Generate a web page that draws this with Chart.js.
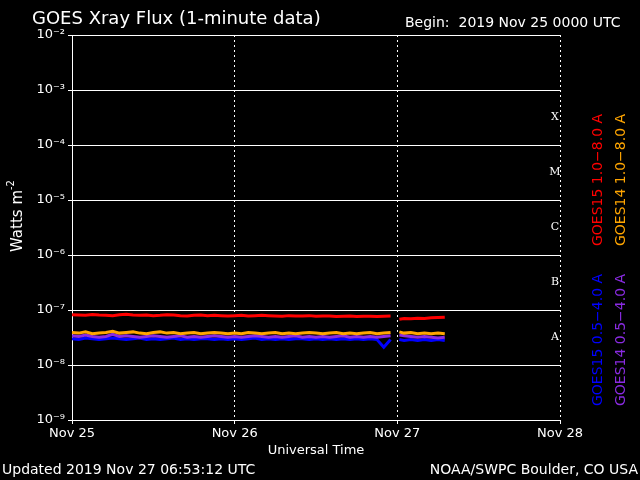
<!DOCTYPE html>
<html>
<head>
<meta charset="utf-8">
<script src="https://cdn.jsdelivr.net/npm/chart.js@4/dist/chart.umd.min.js"></script>
<style>
  body { margin: 0; background: #000; }
</style>
</head>
<body>
<canvas id="xray" width="640" height="480"></canvas>
<script>
// hours since 2019 Nov 25 0000 UTC
const hours = [0,1,2,3,4,5,6,7,8,9,10,11,12,13,14,15,16,17,18,19,20,21,22,23,24,25,26,27,28,29,30,31,32,33,34,35,36,37,38,39,40,41,42,43,44,45,46,47,47.6,48.3,49,50,51,52,53,54,55];
const dayLabels = ["Nov 25", "Nov 26", "Nov 27", "Nov 28"];
const decadeLabels = ["10⁻⁹", "10⁻⁸", "10⁻⁷", "10⁻⁶", "10⁻⁵", "10⁻⁴", "10⁻³", "10⁻²"];
const flareClasses = ["A", "B", "C", "M", "X"];

// flux in units of 1e-8 W m^-2
const goes15Long = [8.2,8.1,8.0,8.3,8.1,8.0,7.9,8.2,8.4,8.1,8.0,8.1,7.9,8.0,8.2,8.1,7.9,7.8,8.0,8.1,7.9,8.0,7.9,7.8,7.9,8.0,7.8,7.9,8.0,7.9,7.8,7.7,7.9,7.8,7.8,7.9,7.7,7.8,7.8,7.6,7.7,7.8,7.6,7.7,7.7,7.6,7.7,7.8,null,6.8,7.0,6.9,7.1,7.0,7.2,7.3,7.4];
const goes14Long = [3.9,3.8,4.0,3.7,3.8,3.9,4.1,3.8,3.9,4.0,3.8,3.7,3.9,4.0,3.8,3.9,3.7,3.8,3.9,3.7,3.8,3.9,3.8,3.7,3.8,3.7,3.9,3.8,3.7,3.8,3.9,3.7,3.8,3.7,3.8,3.9,3.8,3.7,3.8,3.9,3.7,3.8,3.7,3.8,3.9,3.7,3.8,3.9,null,4.0,3.8,3.9,3.7,3.8,3.7,3.8,3.7];
const goes15Short = [3.0,2.9,3.1,3.0,2.9,3.0,3.1,3.0,2.9,3.0,3.1,2.9,3.0,2.9,3.0,3.1,2.9,3.0,2.9,3.0,3.0,2.9,3.0,2.9,3.0,2.9,3.0,3.1,2.9,3.0,2.9,3.0,2.9,3.0,3.0,2.9,3.0,2.9,3.0,2.9,3.0,2.9,3.0,2.9,3.0,2.9,2.1,2.9,null,2.9,2.8,2.9,2.8,2.9,2.8,2.9,2.8];
const goes14Short = [3.4,3.3,3.5,3.3,3.2,3.3,3.6,3.3,3.4,3.3,3.2,3.3,3.4,3.3,3.2,3.3,3.4,3.2,3.3,3.2,3.3,3.4,3.3,3.2,3.3,3.2,3.3,3.4,3.3,3.2,3.3,3.2,3.3,3.4,3.2,3.3,3.2,3.3,3.2,3.3,3.4,3.2,3.3,3.2,3.3,3.2,3.3,3.4,null,3.5,3.4,3.3,3.2,3.3,3.2,3.1,3.2];

function toPoints(values) {
  return hours.map((h, i) => ({ x: h, y: values[i] === null ? null : values[i] * 1e-8 }));
}

function makeSeries(values, color) {
  return {
    data: toPoints(values),
    borderColor: color,
    borderWidth: 3,
    pointRadius: 0,
    spanGaps: false,
  };
}

const overlayPlugin = {
  id: "overlay",
  afterDraw(chart) {
    const ctx = chart.ctx;
    const area = chart.chartArea;
    const y = chart.scales.y;
    ctx.save();
    ctx.fillStyle = "#fff";
    ctx.font = "18px 'DejaVu Sans'";
    ctx.textBaseline = "alphabetic";
    ctx.textAlign = "left";
    ctx.fillText("GOES Xray Flux (1-minute data)", 32, 24);
    ctx.font = "14px 'DejaVu Sans'";
    ctx.fillText("Begin:  2019 Nov 25 0000 UTC", 405, 27);
    ctx.fillText("Updated 2019 Nov 27 06:53:12 UTC", 2, 474);
    ctx.textAlign = "right";
    ctx.fillText("NOAA/SWPC Boulder, CO USA", 638, 474);
    ctx.textAlign = "center";
    ctx.font = "13px 'DejaVu Sans'";
    ctx.fillText("Universal Time", (area.left + area.right) / 2, 454);

    // flare class letters
    ctx.font = "11px 'DejaVu Serif'";
    ctx.textBaseline = "middle";
    flareClasses.forEach((c, i) => {
      ctx.fillText(c, area.right - 5, y.getPixelForValue(Math.pow(10, -7.5 + i)));
    });

    // y axis title
    ctx.save();
    ctx.translate(18, 215);
    ctx.rotate(-Math.PI / 2);
    ctx.font = "15px 'DejaVu Sans'";
    ctx.fillText("Watts m", -6, 0);
    ctx.font = "10px 'DejaVu Sans'";
    ctx.fillText("-2", 30, -7);
    ctx.restore();

    // series labels along the right side
    const sideLabels = [
      ["GOES15 1.0\u22128.0 A", "#ff0000", 598, 180],
      ["GOES14 1.0\u22128.0 A", "#ffa500", 621, 180],
      ["GOES15 0.5\u22124.0 A", "#0000ff", 598, 340],
      ["GOES14 0.5\u22124.0 A", "#8a2be2", 621, 340],
    ];
    ctx.font = "14px 'DejaVu Sans'";
    sideLabels.forEach(([text, color, x, yc]) => {
      ctx.save();
      ctx.translate(x, yc);
      ctx.rotate(-Math.PI / 2);
      ctx.fillStyle = color;
      ctx.fillText(text, 0, 0);
      ctx.restore();
    });
    ctx.restore();
  },
};

new Chart(document.getElementById("xray").getContext("2d"), {
  type: "line",
  data: {
    datasets: [
      makeSeries(goes15Long, "#ff0000"),
      makeSeries(goes14Long, "#ffa500"),
      makeSeries(goes14Short, "#8a2be2"),
      makeSeries(goes15Short, "#0000ff"),
    ],
  },
  options: {
    responsive: false,
    animation: false,
    layout: { padding: { top: 35, right: 80, left: 0, bottom: 0 } },
    plugins: { legend: { display: false }, tooltip: { enabled: false } },
    scales: {
      x: {
        type: "linear",
        min: 0,
        max: 72,
        afterFit: (scale) => { scale.height = 60; },
        afterBuildTicks: (scale) => {
          scale.ticks = [0, 24, 48, 72].map((v) => ({ value: v }));
        },
        ticks: {
          color: "#fff",
          font: { family: "DejaVu Sans", size: 13 },
          maxRotation: 0,
          padding: 2,
          callback: (v) => dayLabels[v / 24],
        },
        grid: { color: "#fff", tickLength: 4, drawTicks: true },
        border: { color: "#fff", dash: [2, 3] },
      },
      y: {
        type: "logarithmic",
        min: 1e-9,
        max: 1e-2,
        afterFit: (scale) => { scale.width = 72; },
        afterBuildTicks: (scale) => {
          scale.ticks = decadeLabels.map((_, i) => ({ value: Math.pow(10, -9 + i) }));
        },
        ticks: {
          color: "#fff",
          font: { family: "DejaVu Sans", size: 13 },
          callback: (v) => decadeLabels[Math.round(Math.log10(v)) + 9],
        },
        grid: { color: "#fff", tickLength: 4 },
        border: { color: "#fff" },
      },
    },
  },
  plugins: [overlayPlugin],
});
</script>
</body>
</html>
